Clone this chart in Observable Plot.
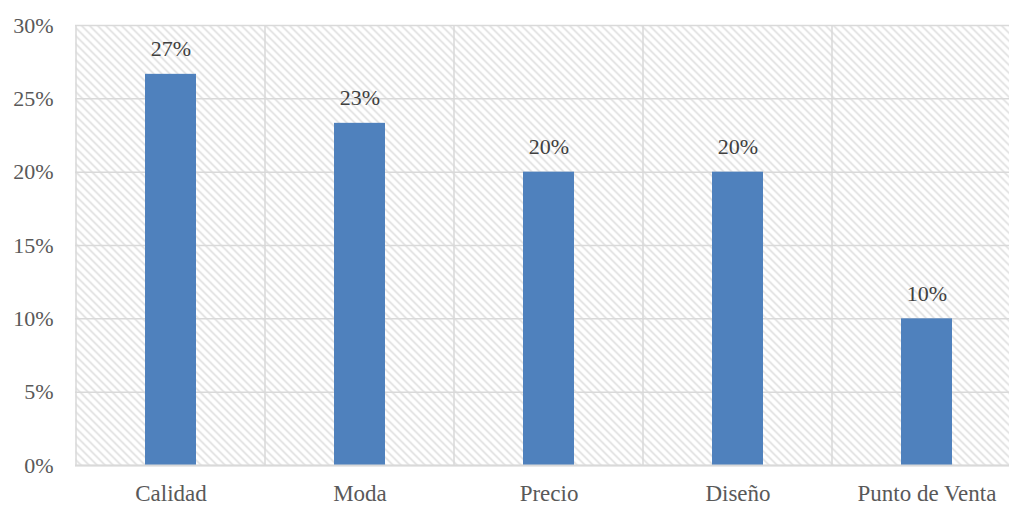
<!DOCTYPE html>
<html>
<head>
<meta charset="utf-8">
<script src="https://cdn.jsdelivr.net/npm/d3@7"></script>
<script src="https://cdn.jsdelivr.net/npm/@observablehq/plot@0.6"></script>
<style>
  html, body { margin: 0; padding: 0; background: #fff; }
  #chart svg { display: block; }
  #chart svg, #chart svg text { font-family: "Liberation Serif", "Times New Roman", serif !important; }
</style>
</head>
<body>
<div id="chart"></div>
<script>
const categories = ["Calidad", "Moda", "Precio", "Diseño", "Punto de Venta"];
const values = [0.2667, 0.2333, 0.20, 0.20, 0.10];
const labels = ["27%", "23%", "20%", "20%", "10%"];
const yTicks = [0, 0.05, 0.10, 0.15, 0.20, 0.25, 0.30];

const data = categories.map((c, i) => ({ cat: c, value: values[i], label: labels[i] }));
const font = "Liberation Serif, Times New Roman, serif";

const chart = Plot.plot({
  width: 1009,
  height: 505,
  marginLeft: 75,
  marginRight: -14,
  marginTop: 25,
  marginBottom: 40,
  style: { fontFamily: font, fontSize: "22px", color: "#595959", background: "#fff", overflow: "hidden" },
  x: { domain: categories, paddingInner: 0.73, paddingOuter: 0.365, label: null },
  y: { domain: [0, 0.30], label: null },
  marks: [
    Plot.frame({ fill: "url(#hatch)", stroke: null }),
    Plot.gridY(yTicks, { stroke: "#d9d9d9", strokeOpacity: 1, strokeWidth: 1.5 }),
    Plot.axisY(yTicks, { tickSize: 0, tickPadding: 22, fontSize: 22, fill: "#595959",
      tickFormat: d => Math.round(d * 100) + "%", label: null }),
    Plot.axisX({ tickSize: 0, tickPadding: 19, fontSize: 23, fill: "#595959", label: null }),
    Plot.barY(data, { x: "cat", y: "value", fill: "#4f81bd" }),
    Plot.text(data, { x: "cat", y: "value", text: "label", dy: -25, fill: "#404040", fontSize: 22 }),
    Plot.ruleY([0], { stroke: "#d9d9d9", strokeWidth: 2 })
  ]
});

const svg = d3.select(chart);
const xs = chart.scale("x");
const ys = chart.scale("y");
const step = xs.step;
svg.insert("defs", ":first-child").html(
  '<pattern id="hatch" patternUnits="userSpaceOnUse" width="8" height="8">' +
  '<path d="M-2,6 L2,10 M0,0 L8,8 M6,-2 L10,2" stroke="#d9d9d9" stroke-width="1.4"/>' +
  '</pattern>'
);
// vertical gridlines at category boundaries (band edges)
const gv = svg.insert("g", "g[aria-label='bar']").attr("aria-label", "x-grid");
categories.forEach((c, i) => {
  const left = xs.apply(c) - (step - xs.bandwidth) / 2;
  gv.append("line").attr("x1", left).attr("x2", left)
    .attr("y1", ys.apply(0.30)).attr("y2", ys.apply(0))
    .attr("stroke", "#d9d9d9").attr("stroke-width", 1.5);
});
document.getElementById("chart").appendChild(chart);
</script>
</body>
</html>
